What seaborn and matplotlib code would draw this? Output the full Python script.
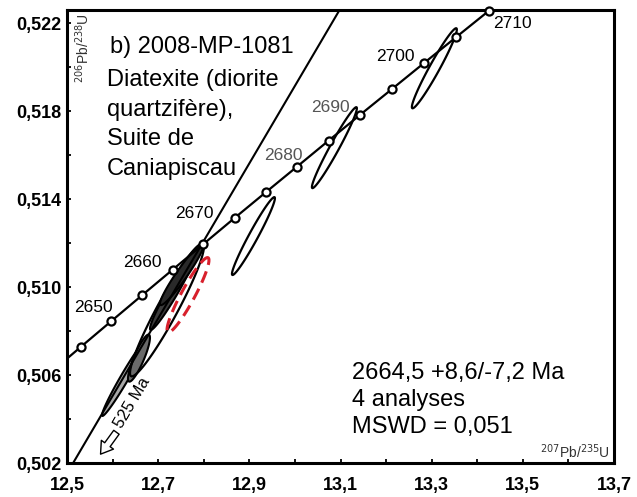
import numpy as np
import pandas as pd
import matplotlib
matplotlib.use("Agg")
import matplotlib.pyplot as plt
from matplotlib.patches import Polygon
import seaborn as sns

# Concordia curve (Wetherill), ages in Ma with their isotopic ratios
conc_age = [2640, 2645, 2650, 2655, 2660, 2665, 2670, 2675, 2680,
            2685, 2690, 2695, 2700, 2705, 2710]
conc_207_235 = [12.4638, 12.5303, 12.5971, 12.6642, 12.7316, 12.7994, 12.8675,
                12.9360, 13.0048, 13.0739, 13.1434, 13.2132, 13.2834, 13.3539, 13.4247]
conc_206_238 = [0.50611, 0.50728, 0.50845, 0.50962, 0.51079, 0.51196, 0.51314,
                0.51431, 0.51548, 0.51666, 0.51784, 0.51901, 0.52019, 0.52137, 0.52255]
labelled_ages = [2650, 2660, 2670, 2680, 2690, 2700, 2710]

# Discordia: lower (525 Ma) and upper (2664.5 Ma) intercepts
disc_207_235 = [0.6771, 12.7926]
disc_206_238 = [0.08485, 0.51184]

# Analyses: centre, 2-sigma half-extents and error correlation
ell_name = ["A", "B", "C", "D1", "D2", "E", "F", "G", "H"]
ell_x = [12.6272, 12.6579, 12.7193, 12.7325, 12.7522, 12.7654, 12.9090, 13.0866, 13.3059]
ell_y = [0.50591, 0.50677, 0.50896, 0.50982, 0.51059, 0.50964, 0.51232, 0.51634, 0.51995]
ell_sx = [0.0504, 0.0241, 0.0811, 0.0504, 0.0482, 0.0460, 0.0471, 0.0493, 0.0493]
ell_sy = [0.00177, 0.00107, 0.00302, 0.00177, 0.00141, 0.00170, 0.00177, 0.00184, 0.00182]
ell_rho = [0.979, 0.866, 0.950, 0.965, 0.955, 0.930, 0.971, 0.973, 0.967]

x_ticks = [12.5, 12.7, 12.9, 13.1, 13.3, 13.5, 13.7]
y_ticks = [0.502, 0.506, 0.510, 0.514, 0.518, 0.522]

sns.set_theme(style="white")
plt.rcParams["font.family"] = ["Liberation Sans", "DejaVu Sans"]
plt.rcParams.update({"text.color": "black", "axes.labelcolor": "black",
                     "xtick.color": "black", "ytick.color": "black"})

fig = plt.figure(figsize=(6.37, 4.97), dpi=100)
ax = fig.add_axes([0.1052, 0.0684, 0.8587, 0.9115])

# error ellipses
fills = {"A": "#a8a8a8", "B": "#6a6a6a", "D1": "#3c3c3c", "D2": "#2a2a2a"}
t = np.linspace(0, 2 * np.pi, 300)
for name, cx, cy, sx, sy, r in zip(ell_name, ell_x, ell_y, ell_sx, ell_sy, ell_rho):
    phi = np.arccos(r)
    pts = np.column_stack([cx + sx * np.cos(t), cy + sy * np.cos(t - phi)])
    if name == "E":
        poly = Polygon(pts, closed=True, fill=False, ec="#d8202c", lw=2.2,
                       ls=(0, (4, 2.2)), zorder=6.5)
    elif name in fills:
        poly = Polygon(pts, closed=True, fc=fills[name], ec="black", lw=1.5, zorder=3)
    else:
        poly = Polygon(pts, closed=True, fill=False, ec="black", lw=1.6, zorder=3)
    ax.add_patch(poly)

# discordia through both intercepts, running to the frame edges
ax.axline((disc_207_235[0], disc_206_238[0]), (disc_207_235[1], disc_206_238[1]),
          color="black", lw=1.5, zorder=5)

# concordia
conc = pd.DataFrame({"age": conc_age, "x": conc_207_235, "y": conc_206_238})
sns.lineplot(data=conc, x="x", y="y", ax=ax, color="black", lw=1.6, sort=False, zorder=6)
pts = conc[conc["age"] >= 2645]
sns.scatterplot(data=pts, x="x", y="y", ax=ax, marker="o", s=34, color="white",
                edgecolor="black", linewidth=1.6, zorder=7, clip_on=False)

label_offsets = {2650: (-18, 14), 2660: (-30, 7), 2670: (-40, 5), 2680: (-14, 11),
                 2690: (-30, 7), 2700: (-29, 6), 2710: (24, -12)}
label_colors = {2680: "#555555", 2690: "#555555"}
for age in labelled_ages:
    row = conc[conc["age"] == age].iloc[0]
    ax.annotate(str(age), (row["x"], row["y"]), xytext=label_offsets[age],
                textcoords="offset pixels", ha="center", va="center",
                fontsize=12.5, color=label_colors.get(age, "black"), zorder=8)

# lower intercept note and arrow
ax.text(12.6425, 0.50473, "525 Ma", rotation=59.5, rotation_mode="anchor",
        ha="center", va="center", fontsize=12, zorder=8)
ax.annotate("", xy=(12.5700, 0.50230), xytext=(12.6120, 0.50350),
            arrowprops=dict(arrowstyle="simple,head_width=0.9,head_length=0.7,tail_width=0.4",
                            fc="white", ec="black", lw=1.0), zorder=8)

ax.set_xlim(12.5, 13.7)
ax.set_ylim(0.502, 0.5226)
ax.set_xticks(x_ticks)
ax.set_yticks(y_ticks)
ax.set_xticks([12.6, 12.8, 13.0, 13.2, 13.4, 13.6], minor=True)
ax.set_yticks([0.504, 0.508, 0.512, 0.516, 0.520], minor=True)
ax.set_xticklabels([f"{v:.1f}".replace(".", ",") for v in x_ticks],
                   fontsize=13, fontweight="bold")
ax.set_yticklabels([f"{v:.3f}".replace(".", ",") for v in y_ticks],
                   fontsize=13, fontweight="bold")
ax.tick_params(axis="both", which="both", direction="in", length=3, width=1.3,
               color="black", bottom=True, left=True)
ax.tick_params(axis="x", which="major", pad=10)
ax.tick_params(axis="y", which="major", pad=4)
ax.set_xlabel("")
ax.set_ylabel("")
for sp in ax.spines.values():
    sp.set_visible(True)
    sp.set_color("black")
    sp.set_linewidth(2.2)

# axis names placed inside the frame
ax.text(0.029, 0.916, r"$^{206}$Pb/$^{238}$U", transform=ax.transAxes, rotation=90,
        ha="center", va="center", fontsize=10, color="#333333")
ax.text(0.992, 0.024, r"$^{207}$Pb/$^{235}$U", transform=ax.transAxes,
        ha="right", va="center", fontsize=10, color="#333333")

# sample description
ax.text(0.0786, 0.918, "b) 2008-MP-1081", transform=ax.transAxes,
        ha="left", va="center", fontsize=17)
for yy, line in zip([0.845, 0.780, 0.715, 0.650],
                    ["Diatexite (diorite", "quartzifère),", "Suite de", "Caniapiscau"]):
    ax.text(0.0731, yy, line, transform=ax.transAxes, ha="left", va="center", fontsize=17)

# age result
for yy, line in zip([0.1987, 0.139, 0.0795],
                    ["2664,5 +8,6/-7,2 Ma", "4 analyses", "MSWD = 0,051"]):
    ax.text(0.521, yy, line, transform=ax.transAxes, ha="left", va="center", fontsize=17)

fig.savefig("out.png", dpi=100)
